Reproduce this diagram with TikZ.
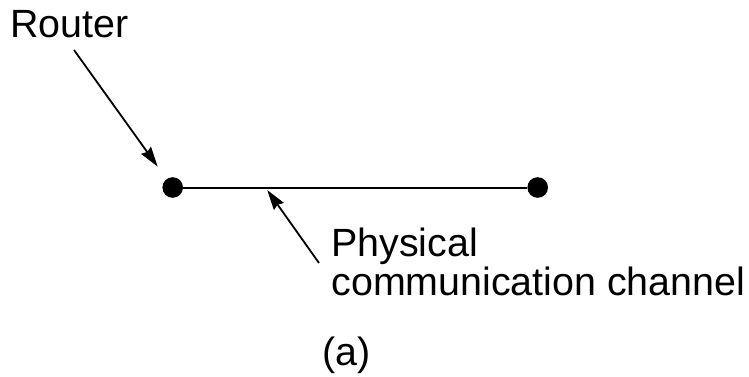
\documentclass[tikz,border=0pt]{standalone}
\usepackage{fontspec}
\setmainfont{Liberation Sans}
\usetikzlibrary{arrows.meta,calc}
\begin{document}
\begin{tikzpicture}[x=0.5pt,y=-0.5pt,
  lbl/.style={inner sep=0pt,anchor=base west,font=\fontsize{19.7pt}{15.5pt}\selectfont},
  router/.style={circle,fill=black,inner sep=0pt,minimum size=10.3pt},
  channel/.style={line width=1pt},
  pointer/.style={line width=0.9pt,-{Stealth[length=10pt,width=6pt,inset=1pt]}}]
  \useasboundingbox (0,0) rectangle (749,376);
  % the two routers and the link between them
  \node[router] (r1) at (172.7,187.5) {};
  \node[router] (r2) at (537.7,187.5) {};
  \draw[channel] (r1) -- (r2);
  % labels (base of a two-line node is the baseline of its last line)
  \node[lbl] (rlabel) at (10,37) {Router};
  \node[lbl,align=left] (ch) at (331,295) {Physical\\communication channel};
  \node[lbl] (cap) at (322,365) {(a)};
  % pointers
  \draw[pointer,shorten >=7.5pt] ($(rlabel.base west)+(64,13)$) -- (r1);
  \draw[pointer] ($(ch.base west)+(-12,-32)$) -- ($($(r1)!0.259!(r2)$)+(0,2.5)$);
\end{tikzpicture}
\end{document}
